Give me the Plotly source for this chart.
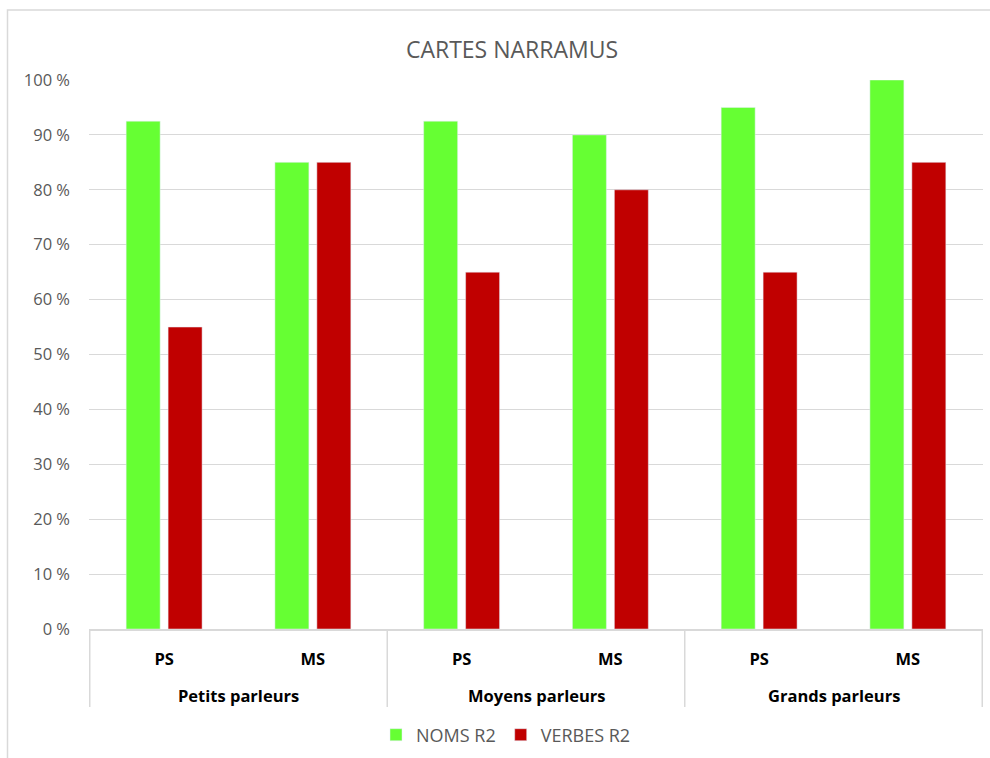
import plotly.graph_objects as go

groups = ["Petits parleurs", "Petits parleurs", "Moyens parleurs", "Moyens parleurs", "Grands parleurs", "Grands parleurs"]
levels = ["PS", "MS", "PS", "MS", "PS", "MS"]
noms_r2 = [92.5, 85, 92.5, 90, 95, 100]
verbes_r2 = [55, 85, 65, 80, 65, 85]
y_ticks = [0, 10, 20, 30, 40, 50, 60, 70, 80, 90, 100]
y_labels = [f"{v}\u00a0%" for v in y_ticks]

W, H = 990, 758
L, R, T, B = 89, 7, 80, 129
pw, ph = W - L - R, H - T - B

# unique category keys, displayed as the first-level labels
keys = [f"{g}|{l}" for g, l in zip(groups, levels)]

fig = go.Figure()
fig.add_trace(go.Bar(x=keys, y=noms_r2, name="NOMS R2", marker_color="#66FF33"))
fig.add_trace(go.Bar(x=keys, y=verbes_r2, name="VERBES R2", marker_color="#C00000"))

fig.update_layout(
    width=W, height=H,
    margin=dict(l=L, r=R, t=T, b=B),
    paper_bgcolor="white", plot_bgcolor="white",
    barmode="group", bargap=0.436, bargroupgap=0.19,
    font=dict(family="Open Sans, Noto Sans, sans-serif", color="#595959"),
    title=dict(text="CARTES NARRAMUS", x=512 / W, xanchor="center", xref="container",
               y=1 - 50 / H, yanchor="middle", yref="container",
               font=dict(size=23, color="#595959")),
    showlegend=True,
    legend=dict(orientation="h", x=506 / W, xref="container", xanchor="center",
                y=1 - 735 / H, yref="container", yanchor="middle",
                font=dict(size=18, color="#595959"), itemwidth=30, traceorder="normal"),
    xaxis=dict(type="category", tickvals=keys, ticktext=levels,
               showline=True, linecolor="#D9D9D9", linewidth=1.5,
               tickfont=dict(size=16.5, color="#000000", weight="bold"),
               ticklabelstandoff=14, ticks="", showgrid=False),
    yaxis=dict(range=[0, 100], tickvals=y_ticks, ticktext=y_labels,
               showgrid=True, gridcolor="#D9D9D9", gridwidth=1.2,
               zeroline=False, showline=False,
               tickfont=dict(size=16.5, color="#595959"), ticklabelstandoff=18),
)

# second-level (group) labels and dividers, derived from the category order
group_names = list(dict.fromkeys(groups))
divider_depth = (707 - 629) / ph
label_depth = (695 - 629) / ph
bounds = [-0.5]
for gname in group_names:
    idx = [i for i, g in enumerate(groups) if g == gname]
    fig.add_annotation(x=sum(idx) / len(idx), y=-label_depth, xref="x", yref="paper",
                       text=gname, showarrow=False, yanchor="middle",
                       font=dict(size=16.5, color="#000000", weight="bold"))
    bounds.append(max(idx) + 0.5)
for b in bounds:
    fig.add_shape(type="line", xref="x", yref="paper", x0=b, x1=b, y0=0, y1=-divider_depth,
                  line=dict(color="#D9D9D9", width=1.5))

# chart outer border (Excel chart area)
fig.add_shape(type="rect", xref="paper", yref="paper",
              x0=(7.5 - L) / pw, x1=(1005 - L) / pw,
              y0=-(770 - T - ph) / ph, y1=1 + (T - 10) / ph,
              line=dict(color="#D9D9D9", width=1.5), fillcolor="rgba(0,0,0,0)", layer="below")

fig.write_html("out.html", post_script="document.body.style.margin='0';",
               config={"displayModeBar": False})
